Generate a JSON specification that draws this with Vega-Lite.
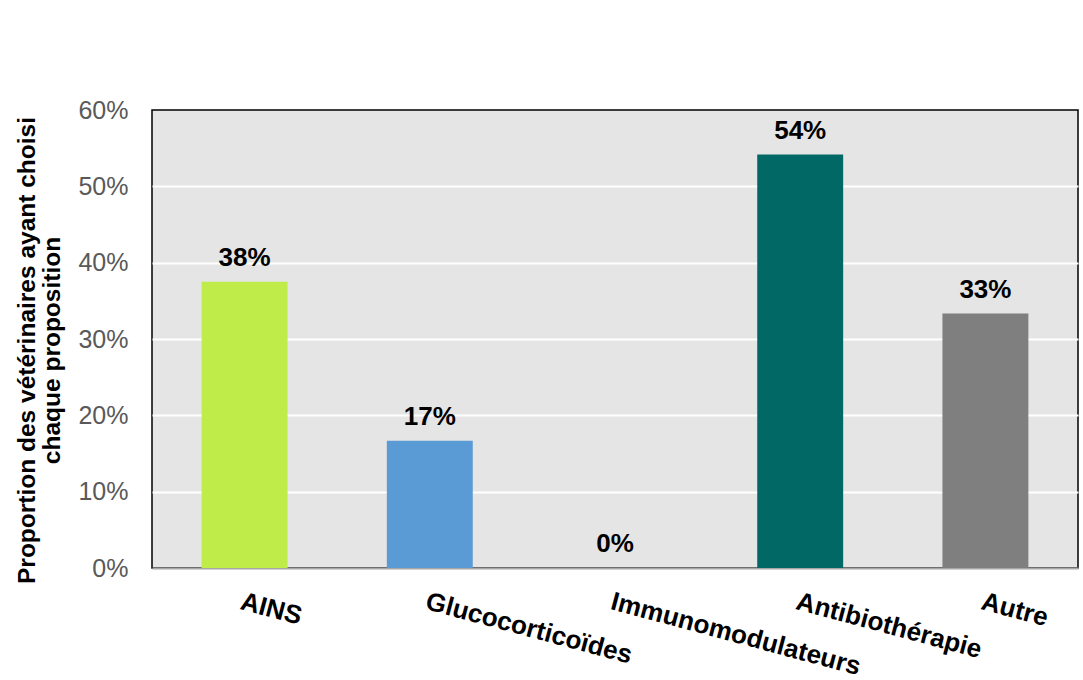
{
  "$schema": "https://vega.github.io/schema/vega-lite/v6.json",
  "width": 926,
  "height": 458,
  "autosize": "none",
  "padding": {"left": 152, "top": 110, "right": 5, "bottom": 112},
  "background": "white",
  "config": {
    "font": "Liberation Sans",
    "view": {"fill": "#e5e5e5", "stroke": "#000000", "strokeWidth": 1.5}
  },
  "data": {
    "values": [
      {"traitement": "AINS", "proportion": 0.375},
      {"traitement": "Glucocorticoïdes", "proportion": 0.1667},
      {"traitement": "Immunomodulateurs", "proportion": 0},
      {"traitement": "Antibiothérapie", "proportion": 0.5417},
      {"traitement": "Autre", "proportion": 0.3333}
    ]
  },
  "encoding": {
    "x": {
      "field": "traitement",
      "type": "nominal",
      "sort": null,
      "scale": {"paddingInner": 0.536, "paddingOuter": 0.268},
      "axis": {
        "title": null,
        "labelAngle": 15,
        "labelAlign": "left",
        "labelBaseline": "top",
        "labelFontSize": 26,
        "labelFontWeight": "bold",
        "labelColor": "#000000",
        "labelPadding": 20,
        "labelLimit": 500,
        "labelOverlap": false,
        "ticks": false,
        "domainColor": "#a6a6a6",
        "domainWidth": 2,
        "grid": false
      }
    },
    "y": {
      "field": "proportion",
      "type": "quantitative",
      "scale": {"domain": [0, 0.6]},
      "axis": {
        "values": [0, 0.1, 0.2, 0.3, 0.4, 0.5, 0.6],
        "format": ".0%",
        "labelFontSize": 25,
        "labelColor": "#595959",
        "labelPadding": 24,
        "ticks": false,
        "domain": false,
        "grid": true,
        "gridColor": "#ffffff",
        "gridWidth": 2,
        "gridOpacity": {"condition": {"test": "datum.value > 0 && datum.value < 0.6", "value": 1}, "value": 0},
        "title": ["Proportion des vétérinaires ayant choisi", "chaque proposition"],
        "titleFontSize": 24.5,
        "titleFontWeight": "bold",
        "titleColor": "#000000",
        "titleAngle": 270,
        "titleAlign": "center",
        "titleBaseline": "alphabetic",
        "titleLineHeight": 25,
        "titleX": -118,
        "titleY": 240
      }
    }
  },
  "layer": [
    {
      "mark": {"type": "bar"},
      "encoding": {
        "color": {
          "field": "traitement",
          "type": "nominal",
          "scale": {
            "domain": ["AINS", "Glucocorticoïdes", "Immunomodulateurs", "Antibiothérapie", "Autre"],
            "range": ["#c0ec4a", "#5b9bd5", "#a5a5a5", "#026865", "#7f7f7f"]
          },
          "legend": null
        }
      }
    },
    {
      "mark": {"type": "text", "baseline": "alphabetic", "dy": -16, "fontSize": 26, "fontWeight": "bold", "color": "#000000"},
      "encoding": {
        "text": {"field": "proportion", "type": "quantitative", "format": ".0%"}
      }
    }
  ]
}
